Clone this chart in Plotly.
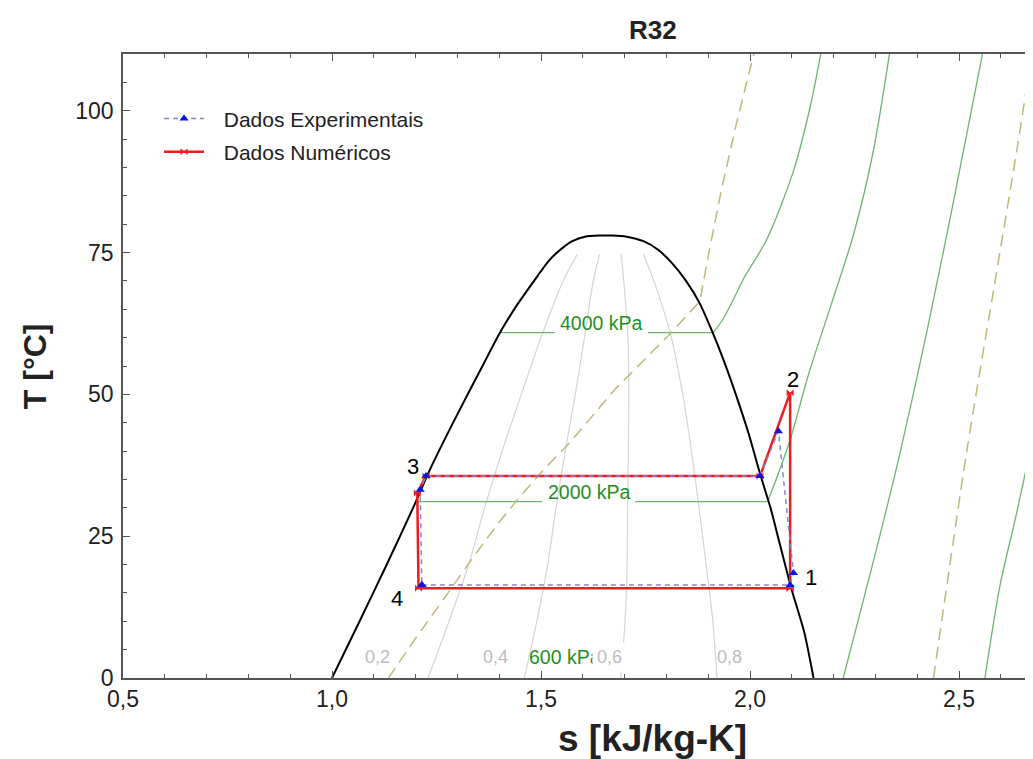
import plotly.graph_objects as go

# ---------------- data ----------------
dome_s = [1.000, 1.066, 1.131, 1.194, 1.234, 1.298, 1.360, 1.402, 1.444, 1.492, 1.518,
          1.548, 1.575, 1.605, 1.640, 1.670, 1.705, 1.745, 1.780, 1.815, 1.847, 1.880,
          1.910, 1.937, 1.966, 1.997, 2.024, 2.049, 2.070, 2.098, 2.130, 2.152]
dome_T = [0.0, 10.0, 20.0, 30.0, 36.7, 46.2, 55.0, 60.9, 65.9, 70.9, 73.5,
          75.6, 77.0, 77.8, 78.0, 78.0, 77.8, 77.0, 75.5, 73.0, 70.0, 66.0,
          61.0, 56.0, 50.0, 43.0, 36.0, 30.0, 24.0, 16.0, 8.0, 0.0]

qual_T = [0, 10, 20, 30, 40, 50, 60, 70, 74.7]
qual_02_s = [1.230, 1.280, 1.327, 1.365, 1.407, 1.453, 1.500, 1.553, 1.587]
qual_04_s = [1.460, 1.490, 1.516, 1.536, 1.558, 1.582, 1.604, 1.625, 1.640]
qual_06_s = [1.691, 1.701, 1.706, 1.707, 1.709, 1.710, 1.708, 1.698, 1.692]
qual_08_s = [1.921, 1.911, 1.895, 1.878, 1.860, 1.839, 1.812, 1.770, 1.745]
qual_labels = ["0,2", "0,4", "0,6", "0,8"]
qual_label_s = [1.109, 1.390, 1.665, 1.952]

# isobars: two-phase (horizontal, with a gap for the label) and superheated parts
iso4000_sat_s = [1.402, 1.533, None, 1.756, 1.912]
iso4000_sat_T = [60.9, 60.9, None, 60.9, 60.9]
iso4000_sup_s = [1.912, 1.935, 1.960, 1.984, 2.040, 2.104, 2.144, 2.171]
iso4000_sup_T = [60.9, 63.2, 66.7, 70.3, 77.3, 89.4, 100.7, 110.7]
iso2000_sat_s = [1.204, 1.502, None, 1.725, 2.042]
iso2000_sat_T = [31.1, 31.1, None, 31.1, 31.1]
iso2000_sup_s = [2.042, 2.060, 2.096, 2.140, 2.195, 2.247, 2.295, 2.335]
iso2000_sup_T = [31.1, 34.5, 42.0, 53.5, 66.0, 78.0, 92.9, 110.7]
iso600_s = [2.223, 2.295, 2.359, 2.423, 2.486, 2.558]
iso600_T = [0.0, 20.5, 39.7, 61.0, 83.7, 110.7]
isoLow_s = [2.562, 2.598, 2.638, 2.680]
isoLow_T = [0.0, 16.3, 29.1, 43.5]

vol1_s = [1.135, 1.200, 1.266, 1.330, 1.398, 1.450, 1.506, 1.569, 1.677, 1.809, 1.880,
          1.900, 1.932, 1.968, 2.008, 2.010]
vol1_T = [0.0, 7.0, 13.8, 20.5, 27.3, 32.0, 36.7, 41.5, 50.9, 60.7, 66.4,
          74.4, 86.2, 97.9, 109.7, 110.0]
vol2_s = [2.439, 2.518, 2.582, 2.638, 2.674]
vol2_T = [0.0, 39.7, 68.1, 92.9, 110.0]

num_s = [2.096, 2.096, 2.024, 1.225, 1.204, 1.207, 2.096]
num_T = [15.8, 50.3, 35.6, 35.6, 32.6, 15.8, 15.8]
exp_s = [1.215, 2.096, 2.104, 2.068, 2.024, 1.225, 1.211, 1.215]
exp_T = [16.4, 16.4, 18.5, 43.5, 35.6, 35.6, 33.2, 16.4]

state_labels = ["1", "2", "3", "4"]
state_s = [2.146, 2.102, 1.194, 1.155]
state_T = [17.8, 52.7, 37.3, 14.0]

FONT = "Liberation Sans"
GREEN_LINE = "#6db46d"
GREEN_TXT = "#1f8f1f"
GRAY_Q = "#d4d4d4"
KHAKI = "#bfb878"

fig = go.Figure()

def bg(x, y, color, width=1.2, dash=None, shape="linear"):
    fig.add_trace(go.Scatter(x=x, y=y, mode="lines", showlegend=False, hoverinfo="skip",
                             line=dict(color=color, width=width, dash=dash, shape=shape,
                                       smoothing=0.8 if shape == "spline" else None)))

for qs in [qual_02_s, qual_04_s, qual_06_s, qual_08_s]:
    bg(qs, qual_T, GRAY_Q, 1.2, shape="spline")
bg(iso4000_sat_s, iso4000_sat_T, GREEN_LINE, 1.3)
bg(iso4000_sup_s, iso4000_sup_T, GREEN_LINE, 1.3, shape="spline")
bg(iso2000_sat_s, iso2000_sat_T, GREEN_LINE, 1.3)
bg(iso2000_sup_s, iso2000_sup_T, GREEN_LINE, 1.3, shape="spline")
bg(iso600_s, iso600_T, GREEN_LINE, 1.3, shape="spline")
bg(isoLow_s, isoLow_T, GREEN_LINE, 1.3, shape="spline")
bg(vol1_s, vol1_T, KHAKI, 1.5, "12px,7px")
bg(vol2_s, vol2_T, KHAKI, 1.5, "12px,7px", shape="spline")
fig.add_trace(go.Scatter(x=dome_s, y=dome_T, mode="lines", showlegend=False, hoverinfo="skip",
                         line=dict(color="black", width=2, shape="spline", smoothing=0.6)))

fig.add_trace(go.Scatter(x=num_s, y=num_T, mode="lines+markers",
                         name="\u2002\u2009Dados Numéricos",
                         legendgroup="num", legendrank=2,
                         line=dict(color="#ee1c1c", width=2.5),
                         marker=dict(symbol="bowtie", size=7, color="#ee1c1c")))
fig.add_trace(go.Scatter(x=exp_s, y=exp_T, mode="lines+markers",
                         name="\u2002\u2009Dados Experimentais",
                         legendgroup="exp", legendrank=1,
                         line=dict(color="#8585cc", width=1.5, dash="5px,4px"),
                         marker=dict(symbol="triangle-up", size=8, color="#0a14e6")))

ann = []
# 600 kPa label (drawn before 0,6 so that label covers its last letter)
ann.append(dict(x=1.557, y=3.7, text="600 kPa", showarrow=False, xref="x", yref="y",
                yanchor="middle", font=dict(family=FONT, size=19.5, color=GREEN_TXT)))
for lab, xs in zip(qual_labels, qual_label_s):
    ann.append(dict(x=xs, y=3.7, text=lab, showarrow=False, xref="x", yref="y",
                    yanchor="middle", bgcolor="white" if lab == "0,6" else None,
                    borderpad=4 if lab == "0,6" else 1,
                    font=dict(family=FONT, size=18, color="#bdbdbd")))
ann.append(dict(x=1.644, y=62.6, text="4000 kPa", showarrow=False, xref="x", yref="y",
                yanchor="middle", font=dict(family=FONT, size=19.5, color=GREEN_TXT)))
ann.append(dict(x=1.615, y=32.8, text="2000 kPa", showarrow=False, xref="x", yref="y",
                yanchor="middle", font=dict(family=FONT, size=19.5, color=GREEN_TXT)))
for lab, xs, ys in zip(state_labels, state_s, state_T):
    ann.append(dict(x=xs, y=ys, text=lab, showarrow=False, xref="x", yref="y",
                    yanchor="middle", font=dict(family=FONT, size=22, color="black")))
# titles
ann.append(dict(x=0.5824, y=1.0385, xref="paper", yref="paper", text="<b>R32</b>",
                xanchor="center", yanchor="middle",
                showarrow=False, font=dict(family=FONT, size=26, color="#222")))
ann.append(dict(x=0.5824, y=-0.097, xref="paper", yref="paper", text="<b>s [kJ/kg-K]</b>",
                xanchor="center", yanchor="middle",
                showarrow=False, font=dict(family=FONT, size=37, color="#222")))
ann.append(dict(x=-0.0965, y=0.5, xref="paper", yref="paper", text="<b>T [°C]</b>",
                xanchor="center", yanchor="middle",
                textangle=-90, showarrow=False, font=dict(family=FONT, size=32, color="#222")))

fig.update_layout(
    width=1025, height=751, autosize=False,
    margin=dict(l=115, r=0, t=46, b=81),
    paper_bgcolor="white", plot_bgcolor="white",
    separators=",.",
    font=dict(family=FONT, size=20, color="#222"),
    annotations=ann,
    legend=dict(x=0.0396, y=0.929, xanchor="left", yanchor="top", bgcolor="rgba(0,0,0,0)",
                font=dict(family=FONT, size=21, color="#222"),
                traceorder="grouped", tracegroupgap=3, itemwidth=40),
    xaxis=dict(range=[0.5, 2.677], tick0=0.5, dtick=0.5, tickformat=".1f",
               ticks="inside", ticklen=7, tickcolor="#555", tickwidth=1,
               showline=True, linecolor="#555", linewidth=1.5, mirror="ticks",
               showgrid=False, zeroline=False,
               tickfont=dict(family=FONT, size=23, color="#222"),
               minor=dict(dtick=0.1, ticks="inside", ticklen=4, tickcolor="#555")),
    yaxis=dict(range=[0, 110], tick0=0, dtick=25,
               ticks="inside", ticklen=7, tickcolor="#555", tickwidth=1,
               showline=True, linecolor="#555", linewidth=1.5, mirror=False,
               showgrid=False, zeroline=False, ticklabelstandoff=3,
               tickfont=dict(family=FONT, size=23, color="#222"),
               minor=dict(dtick=5, ticks="inside", ticklen=4, tickcolor="#555")),
)

fig.write_html("out.html")
